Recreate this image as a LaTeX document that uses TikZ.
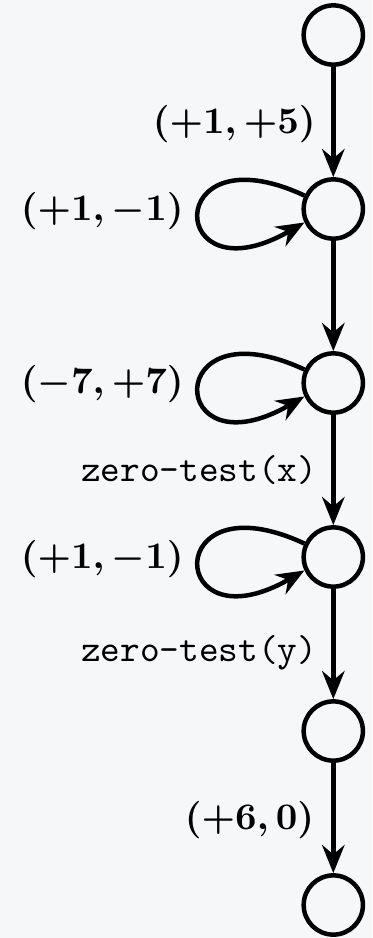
\documentclass[tikz,border=0pt]{standalone}
\usetikzlibrary{arrows.meta}
\definecolor{bgc}{HTML}{F6F7F9}
\tikzset{
  st/.style={circle,draw=black,line width=1.2pt,minimum size=15.8pt,inner sep=0pt},
  edge/.style={line width=1.2pt,-{Stealth[length=7.5pt,width=6pt,inset=2.5pt]}},
  lab/.style={inner sep=0pt,anchor=base east,font=\boldmath},
  ttlab/.style={inner sep=0pt,anchor=base east,font=\ttfamily}
}
\begin{document}
\begin{tikzpicture}[x=1pt,y=1pt]
\fill[bgc] (0,0) rectangle (99.2,-250.13);
\useasboundingbox (0,0) rectangle (99.2,-250.13);
\node[st] (n1) at (88.88,-9.33) {};
\node[st] (n2) at (88.88,-55.73) {};
\node[st] (n3) at (88.88,-102.13) {};
\node[st] (n4) at (88.88,-148.53) {};
\node[st] (n5) at (88.88,-194.93) {};
\node[st] (n6) at (88.88,-241.33) {};
\draw[edge] (n1) -- (n2);
\draw[edge] (n2) -- (n3);
\draw[edge] (n3) -- (n4);
\draw[edge] (n4) -- (n5);
\draw[edge] (n5) -- (n6);
\draw[edge] (n2.155) .. controls +(155:42.3) and +(210:42.3) .. (n2.205);
\draw[edge] (n3.155) .. controls +(155:42.3) and +(210:42.3) .. (n3.205);
\draw[edge] (n4.155) .. controls +(155:42.3) and +(210:42.3) .. (n4.205);
\node[lab] (l12) at (84.4,-35.55) {$(+1,+5)$};
\node[lab] (l22) at (49.2,-58.83) {$(+1,-1)$};
\node[lab] (l33) at (49.2,-104.96) {$(-7,+7)$};
\node[ttlab] (l34) at (84.8,-128.45) {zero-test(x)};
\node[lab] (l44) at (49.2,-151.63) {$(+1,-1)$};
\node[ttlab] (l45) at (84.8,-176.45) {zero-test(y)};
\node[lab] (l56) at (84.0,-221.07) {$(+6,0)$};
\end{tikzpicture}
\end{document}
